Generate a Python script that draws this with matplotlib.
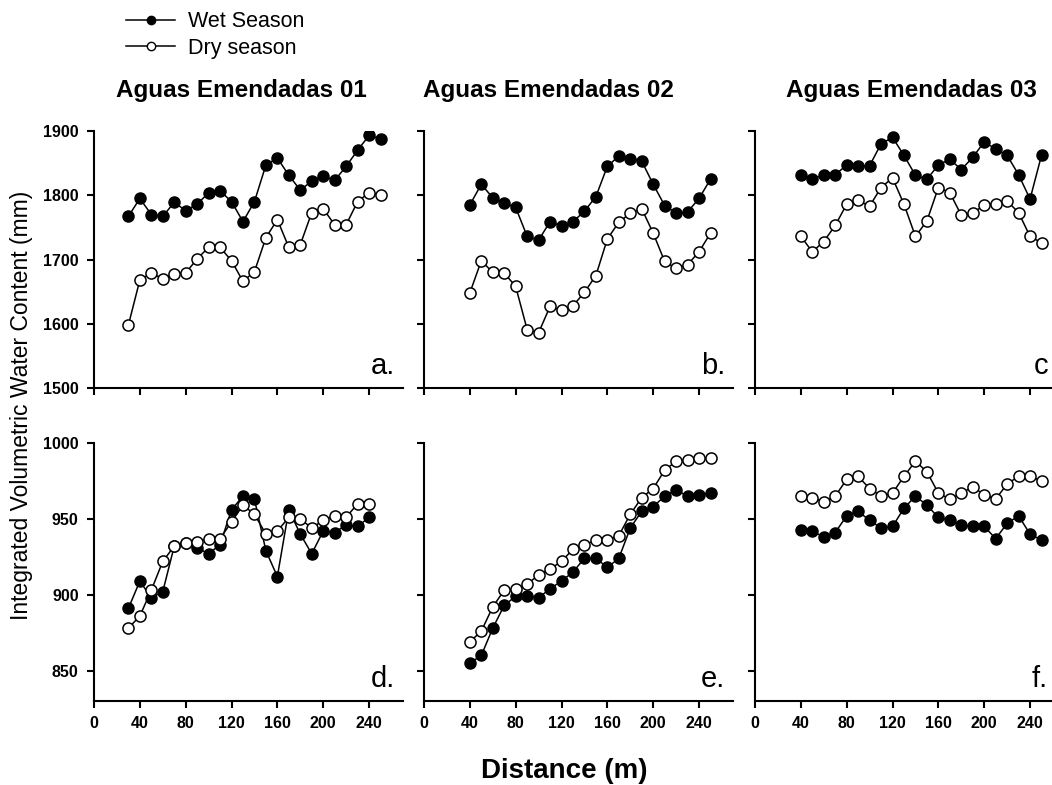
import numpy as np
import matplotlib.pyplot as plt

plt.rcParams['font.family'] = ['Liberation Sans', 'DejaVu Sans']

# distances (m)
dist_a = list(range(30, 260, 10))
dist_d = list(range(30, 250, 10))
dist_bc = list(range(40, 260, 10))

# Aguas Emendadas 01 (top)
wet_a = [1767, 1795, 1770, 1767, 1789, 1776, 1786, 1804, 1807, 1790, 1759, 1790,
         1847, 1858, 1831, 1808, 1822, 1830, 1823, 1845, 1870, 1893, 1888]
dry_a = [1598, 1668, 1679, 1670, 1678, 1679, 1701, 1719, 1719, 1698, 1666, 1681,
         1734, 1762, 1719, 1723, 1773, 1779, 1754, 1754, 1790, 1804, 1801]
# Aguas Emendadas 02 (top)
wet_b = [1785, 1817, 1796, 1788, 1781, 1736, 1730, 1759, 1752, 1759, 1775, 1798,
         1845, 1861, 1857, 1853, 1817, 1784, 1772, 1774, 1795, 1825]
dry_b = [1648, 1698, 1680, 1679, 1658, 1591, 1586, 1627, 1621, 1628, 1649, 1675,
         1732, 1758, 1772, 1779, 1741, 1697, 1686, 1692, 1712, 1741]
# Aguas Emendadas 03 (top)
wet_c = [1832, 1826, 1831, 1832, 1847, 1845, 1846, 1880, 1890, 1862, 1831, 1825,
         1847, 1856, 1840, 1859, 1883, 1872, 1862, 1832, 1794, 1862]
dry_c = [1736, 1712, 1728, 1753, 1786, 1792, 1783, 1812, 1827, 1786, 1736, 1760,
         1812, 1804, 1769, 1772, 1785, 1787, 1791, 1773, 1736, 1726]

# bottom row
wet_d = [891, 909, 898, 902, 932, 934, 931, 927, 933, 956, 965, 963,
         929, 912, 956, 940, 927, 942, 941, 946, 945, 951]
dry_d = [878, 886, 903, 922, 932, 934, 935, 937, 937, 948, 959, 953,
         940, 942, 951, 950, 944, 949, 952, 951, 960, 960]
wet_e = [855, 860, 878, 893, 899, 899, 898, 904, 909, 915, 924, 924,
         918, 924, 944, 955, 958, 965, 969, 965, 966, 967]
dry_e = [869, 876, 892, 903, 904, 907, 913, 917, 922, 930, 933, 936,
         936, 939, 953, 964, 970, 982, 988, 989, 990, 990]
wet_f = [943, 942, 938, 941, 952, 955, 949, 944, 945, 957, 965, 959,
         951, 949, 946, 945, 945, 937, 947, 952, 940, 936]
dry_f = [965, 964, 961, 965, 976, 978, 970, 965, 967, 978, 988, 981,
         967, 963, 967, 971, 966, 963, 973, 978, 978, 975]

panels = [
    (dist_a, wet_a, dry_a, 'a.'), (dist_bc, wet_b, dry_b, 'b.'), (dist_bc, wet_c, dry_c, 'c'),
    (dist_d, wet_d, dry_d, 'd.'), (dist_bc, wet_e, dry_e, 'e.'), (dist_bc, wet_f, dry_f, 'f.'),
]
titles = ['Aguas Emendadas 01', 'Aguas Emendadas 02', 'Aguas Emendadas 03']

W, H = 1052, 785
fig = plt.figure(figsize=(W / 100, H / 100), dpi=100)

# third column runs past the right edge of the picture, as in the original
lefts = [94, 424, 755]
axw = 270 * 1.146
rows = [(131, 388), (443, 701)]

axes = []
for i, (x, wet, dry, lab) in enumerate(panels):
    r, c = divmod(i, 3)
    top, bot = rows[r]
    ax = fig.add_axes([lefts[c] / W, 1 - bot / H, axw / W, (bot - top) / H])
    ax.plot(x, wet, '-o', color='black', mfc='black', mec='black', ms=8, lw=1.1, mew=1, zorder=3)
    ax.plot(x, dry, '-o', color='black', mfc='white', mec='black', ms=8, lw=1.1, mew=1.1, zorder=3)
    ax.set_xlim(0, 270)
    ax.set_xticks(range(0, 241, 40))
    if r == 0:
        ax.set_ylim(1500, 1900)
        ax.set_yticks(range(1500, 1901, 100))
    else:
        ax.set_ylim(830, 1000)
        ax.set_yticks([850, 900, 950, 1000])
    for s in ['top', 'right']:
        ax.spines[s].set_visible(False)
    for s in ['left', 'bottom']:
        ax.spines[s].set_linewidth(1.5)
    ax.tick_params(direction='out', length=5, width=1.5, labelsize=11.5, pad=6)
    if c > 0:
        ax.set_yticklabels([])
    if r == 0:
        ax.set_xticklabels([])
    for t in ax.get_xticklabels() + ax.get_yticklabels():
        t.set_fontweight('bold')
    lx = 0.973 if c < 2 else (1048 - lefts[c]) / axw
    ax.text(lx, 0.055, lab, transform=ax.transAxes, ha='right', va='baseline', fontsize=21)
    axes.append(ax)

for cx, t in zip([241, 548, 911], titles):
    fig.text(cx / W, 1 - 97 / H, t, ha='center', va='baseline', fontsize=17.5, fontweight='bold')

fig.text(564 / W, 1 - 771 / H, 'Distance (m)', ha='center', va='center', fontsize=20, fontweight='bold')
fig.text(22 / W, 1 - 405 / H, 'Integrated Volumetric Water Content (mm)', rotation=90,
         ha='center', va='center', fontsize=16.5)

h1, = axes[0].plot([], [], '-o', color='black', mfc='black', ms=6, lw=1.1)
h2, = axes[0].plot([], [], '-o', color='black', mfc='white', ms=6, lw=1.1)
fig.legend([h1, h2], ['Wet Season', 'Dry season'], loc='center left',
           bbox_to_anchor=(115 / W, 1 - 35 / H), frameon=False, fontsize=15.5,
           handlelength=2.3, handletextpad=0.6, labelspacing=0.25, borderpad=0)

fig.savefig('out.png', dpi=100)
